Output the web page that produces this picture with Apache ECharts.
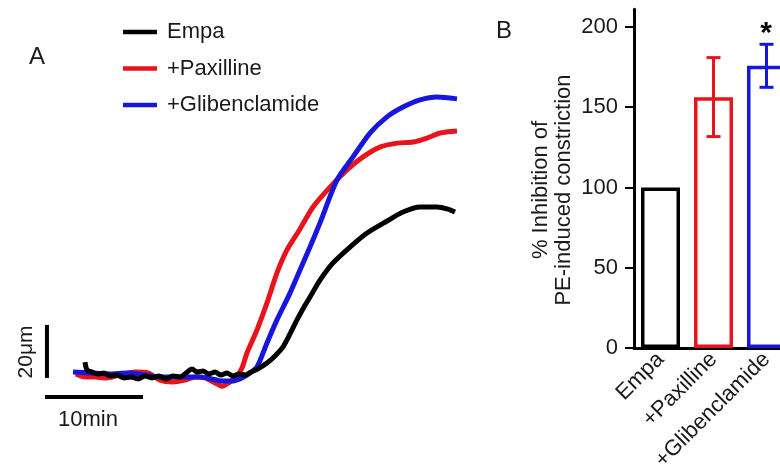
<!DOCTYPE html>
<html>
<head>
<meta charset="utf-8">
<script src="https://cdn.jsdelivr.net/npm/echarts@6/dist/echarts.min.js"></script>
<style>html,body{margin:0;padding:0;background:#fff}#c{width:780px;height:471px}</style>
</head>
<body>
<div id="c"></div>
<script>
// ---------- Panel A: diameter traces (x: minutes, y: micrometres) ----------
const traceNames = ['Empa', '+Paxilline', '+Glibenclamide'];
const empaTrace = [
  [4.08, 4.9], [4.29, 1.9], [4.8, 1.1], [5.41, 0.4], [6.02, 0.75], [6.63, -0.4], [7.35, 0],
  [8.06, -1.1], [8.78, -0.75], [9.49, -1.5], [10.2, -0.4], [10.92, -1.1], [11.63, -0.4],
  [12.35, -1.5], [13.06, -0.4], [13.78, -0.75], [14.39, 0.75], [15.0, 2.3], [15.51, 1.1],
  [16.12, 1.5], [16.73, 0.4], [17.35, 1.1], [17.96, 0], [18.57, 0.75], [19.18, -0.4],
  [19.8, 0.4], [20.41, 0], [21.02, 1.1], [21.73, 2.3], [22.65, 4.5], [23.47, 7.2],
  [24.29, 10.6], [25.0, 15.5], [25.71, 20.8], [26.43, 25.7], [27.04, 29.4], [28.06, 35.8],
  [29.39, 42.3], [31.12, 48.3], [32.86, 53.6], [34.9, 58.1], [36.53, 61.5], [38.27, 63.4],
  [40.0, 63.4], [41.12, 62.6], [41.84, 61.5]
];
const paxTrace = [
  [3.16, 0.4], [4.08, -0.75], [5.1, -0.75], [6.12, -1.1], [7.65, 0], [9.18, 1.1], [10.51, 0.75],
  [11.73, -1.9], [12.96, -2.6], [14.29, -1.9], [15.31, -0.75], [16.33, -1.1], [17.35, -3.0],
  [18.06, -4.2], [18.88, -2.6], [19.59, -0.4], [20.1, 2.6], [20.61, 8.3], [21.63, 17.0],
  [22.65, 27.2], [23.67, 38.5], [24.69, 47.2], [26.02, 55.1], [27.35, 63.4], [29.08, 70.9],
  [30.82, 77.4], [32.45, 82.3], [34.18, 86.0], [35.92, 87.5], [37.55, 87.9], [38.98, 89.4],
  [40.31, 91.3], [42.04, 92.1]
];
const glibTrace = [
  [2.86, 1.1], [4.59, 0.75], [6.63, 0.4], [8.37, 0.75], [10.2, 0], [11.73, -0.75], [13.78, -0.75],
  [15.82, -0.75], [17.04, -1.5], [18.06, -2.3], [19.08, -2.3], [20.1, -1.1], [20.92, 0.75],
  [21.63, 3.0], [22.65, 12.1], [23.67, 20.8], [25.0, 30.9], [26.02, 39.6], [27.04, 48.3],
  [28.06, 57.4], [29.8, 73.6], [31.43, 82.3], [33.16, 91.3], [34.9, 97.4], [36.53, 101.1],
  [38.27, 103.8], [40.0, 104.9], [42.04, 104.2]
];
// scale bars (10 min horizontal, 20 µm vertical)
const scaleBarTime = [[0, -8.3], [10, -8.3]];
const scaleBarDiam = [[0.2, -1.1], [0.2, 18.9]];

// ---------- Panel B: % inhibition bar chart ----------
const barCategories = ['Empa', '+Paxilline', '+Glibenclamide'];
const barMeans = [100, 156.2, 175.9];
const barErrLow = [100, 131.7, 162.4];
const barErrHigh = [100, 180.9, 189.2];
const yTicksB = [0, 50, 100, 150, 200];

const RED = '#e8141c', BLUE = '#1616dc', BLACK = '#000000';
const traceColors = [BLACK, RED, BLUE];
const FONT = '"Liberation Sans", Arial, sans-serif';
const TXT = '#1a1a1a';

const chart = echarts.init(document.getElementById('c'), null, {renderer: 'canvas'});

const traceSeries = [empaTrace, paxTrace, glibTrace].map((d, i) => ({
  name: traceNames[i], type: 'line', xAxisIndex: 0, yAxisIndex: 0,
  data: d, showSymbol: false, smooth: 0.25, clip: false,
  lineStyle: {color: traceColors[i], width: 5}, itemStyle: {color: traceColors[i]},
  z: i === 0 ? 4 : (i === 1 ? 2 : 3), silent: true
}));

chart.setOption({
  animation: false,
  backgroundColor: '#ffffff',
  textStyle: {fontFamily: FONT},
  legend: {
    data: traceNames, orient: 'vertical', left: 123, top: 21, padding: 0,
    icon: 'rect', itemWidth: 34, itemHeight: 4.5, itemGap: 14.5,
    textStyle: {fontSize: 22, color: TXT, fontFamily: FONT, lineHeight: 22, padding: [0, 0, 0, 5]},
    selectedMode: false
  },
  grid: [
    {left: 45, top: 83.5, width: 421.4, height: 331.25, outerBoundsMode: 'none', containLabel: false},
    {left: 634, top: 9.3, width: 159, height: 338.7, outerBoundsMode: 'none', containLabel: false}
  ],
  xAxis: [
    {gridIndex: 0, type: 'value', min: 0, max: 43, show: false},
    {gridIndex: 1, type: 'category', data: barCategories,
     axisLine: {lineStyle: {color: BLACK, width: 3}},
     axisTick: {alignWithLabel: true, length: 6, lineStyle: {color: BLACK, width: 3}},
     axisLabel: {rotate: 45, fontSize: 22, color: TXT, margin: 8, fontFamily: FONT, interval: 0},
     splitLine: {show: false}}
  ],
  yAxis: [
    {gridIndex: 0, type: 'value', min: -15, max: 110, show: false},
    {gridIndex: 1, type: 'value', min: 0, max: 211,
     axisLine: {show: true, lineStyle: {color: BLACK, width: 3}},
     axisTick: {show: true, length: 9, lineStyle: {color: BLACK, width: 2}, customValues: yTicksB},
     axisLabel: {fontSize: 22, color: TXT, margin: 16, fontFamily: FONT, customValues: yTicksB},
     splitLine: {show: false}}
  ],
  series: [
    ...traceSeries,
    {type: 'line', xAxisIndex: 0, yAxisIndex: 0, data: scaleBarTime, showSymbol: false, clip: false,
     lineStyle: {color: BLACK, width: 4}, silent: true},
    {type: 'line', xAxisIndex: 0, yAxisIndex: 0, data: scaleBarDiam, showSymbol: false, clip: false,
     lineStyle: {color: BLACK, width: 4}, silent: true},
    {type: 'bar', xAxisIndex: 1, yAxisIndex: 1, barWidth: 39,
     data: barMeans.map((v, i) => ({value: v, itemStyle: {color: '#ffffff', borderColor: traceColors[i], borderWidth: 3.5}})),
     silent: true, z: 2},
    {type: 'custom', xAxisIndex: 1, yAxisIndex: 1, silent: true, z: 3, clip: false,
     data: barCategories.map((c, i) => [i, barErrLow[i], barErrHigh[i]]),
     encode: {x: 0, y: [1, 2]},
     renderItem: function (params, api) {
       const i = api.value(0);
       if (api.value(1) === api.value(2)) return {type: 'group', children: []};
       const lo = api.coord([i, api.value(1)]);
       const hi = api.coord([i, api.value(2)]);
       const hw = 7;
       const st = {stroke: traceColors[i], lineWidth: 3};
       return {type: 'group', children: [
         {type: 'line', shape: {x1: lo[0], y1: lo[1], x2: hi[0], y2: hi[1]}, style: st},
         {type: 'line', shape: {x1: hi[0] - hw, y1: hi[1], x2: hi[0] + hw, y2: hi[1]}, style: st},
         {type: 'line', shape: {x1: lo[0] - hw, y1: lo[1], x2: lo[0] + hw, y2: lo[1]}, style: st}
       ]};
     }}
  ],
  graphic: [
    {type: 'text', x: 37, y: 57, style: {text: 'A', fontSize: 24, fontFamily: FONT, fill: TXT, align: 'center', verticalAlign: 'middle'}},
    {type: 'text', x: 504, y: 31, style: {text: 'B', fontSize: 24, fontFamily: FONT, fill: TXT, align: 'center', verticalAlign: 'middle'}},
    {type: 'text', x: 88, y: 420, style: {text: '10min', fontSize: 22, fontFamily: FONT, fill: TXT, align: 'center', verticalAlign: 'middle'}},
    {type: 'text', x: 26, y: 352, rotation: Math.PI / 2, style: {text: '20μm', fontSize: 21, fontFamily: FONT, fill: TXT, align: 'center', verticalAlign: 'middle'}},
    {type: 'text', x: 552, y: 190, rotation: Math.PI / 2, style: {text: '% Inhibition of\nPE-induced constriction', fontSize: 22, lineHeight: 23, fontFamily: FONT, fill: TXT, align: 'center', verticalAlign: 'middle'}},
    {type: 'text', x: 766, y: 34, style: {text: '*', fontSize: 30, fontWeight: 'bold', fontFamily: FONT, fill: BLACK, align: 'center', verticalAlign: 'middle'}}
  ]
});
</script>
</body>
</html>
